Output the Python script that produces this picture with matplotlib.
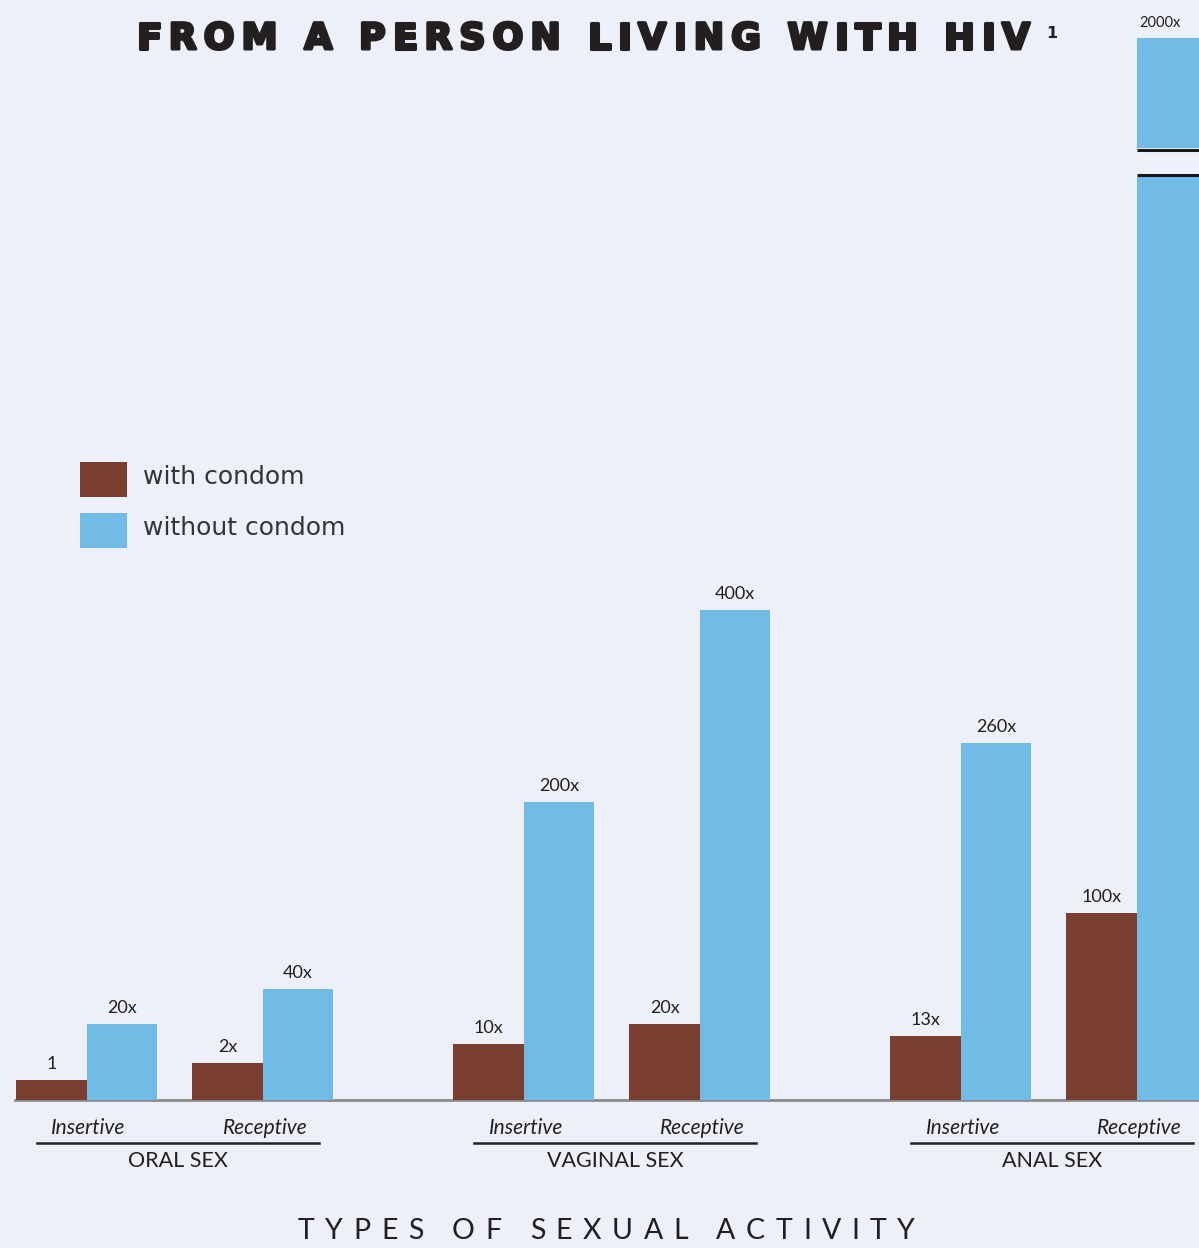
import matplotlib
matplotlib.use('Agg')
import matplotlib.pyplot as plt
import matplotlib.patheffects as pe
from matplotlib.patches import Patch
from matplotlib.transforms import Affine2D

# ---------------- data ----------------
groups = ['ORAL SEX', 'VAGINAL SEX', 'ANAL SEX']
roles = ['Insertive', 'Receptive']
with_labels = ['1', '2x', '10x', '20x', '13x', '100x']
without_labels = ['20x', '40x', '200x', '400x', '260x', '2000x']
# drawn bar heights (the graphic is not to a linear scale)
with_heights = [20, 37, 56, 76, 64, 187]
without_heights = [76, 111, 298, 490, 357, 1062]
legend_labels = ['with condom', 'without condom']
title = 'FROM A PERSON LIVING WITH HIV'
xlabel = 'TYPES OF SEXUAL ACTIVITY'

# ---------------- style ----------------
W, H = 1199, 1248
BG = '#EDF0F8'
BROWN = '#7B3F32'
BLUE = '#71BBE7'
TXT = '#231F20'
BREAK_LO, BREAK_HI = 925, 950   # axis break (drawn units)

fig = plt.figure(figsize=(W / 100, H / 100), dpi=100)
fig.patch.set_facecolor(BG)
ax = fig.add_axes([0, 0, 1, 1])
ax.set_facecolor(BG)
PX = 70.5
X0 = 86.5
ax.set_xlim(-X0 / PX, (W - X0) / PX)
ax.set_ylim(-(H - 1100), 1100)
ax.axis('off')

group_step = 6.2
pair_step = 2.5
centers = []
for gi in range(len(groups)):
    for ri in range(len(roles)):
        centers.append(gi * group_step + ri * pair_step)

# bars
for i, c in enumerate(centers):
    ax.bar(c - 0.5, with_heights[i], width=1.0, color=BROWN, zorder=2)
    h = without_heights[i]
    if h > BREAK_HI:
        ax.bar(c + 0.5, BREAK_LO - 2, width=1.0, color=BLUE, zorder=2)
        ax.bar(c + 0.5, h - BREAK_HI - 2, bottom=BREAK_HI + 2, width=1.0, color=BLUE, zorder=2)
        for yb in (BREAK_LO, BREAK_HI):
            ax.plot([c, c + 1.0], [yb, yb], color='#1a1a1a', lw=2.2, zorder=3,
                    solid_capstyle='butt')
        ax.text(c + 0.04, h + 8, without_labels[i], ha='left', va='bottom',
                fontsize=10.5, family='Lato', color=TXT, clip_on=False)
    else:
        ax.bar(c + 0.5, h, width=1.0, color=BLUE, zorder=2)
        ax.text(c + 0.5, h + 8, without_labels[i], ha='center', va='bottom',
                fontsize=13, family='Lato', color=TXT)
    ax.text(c - 0.5, with_heights[i] + 8, with_labels[i], ha='center', va='bottom',
            fontsize=13, family='Lato', color=TXT)

# baseline
ax.plot([(15 - X0) / PX, (W - X0) / PX], [0, 0], color='#8a8a8a', lw=2, zorder=1)

# role labels, underline, group labels
for gi, g in enumerate(groups):
    for ri, r in enumerate(roles):
        c = centers[gi * 2 + ri]
        ax.text(c + 0.03, -28, r, ha='center', va='center', fontsize=15,
                family='Lato', style='italic', color=TXT)
    gc = (centers[gi * 2] + centers[gi * 2 + 1]) / 2 + 0.05
    ax.plot([gc - 2.0, gc + 2.0], [-43, -43], color='#222222', lw=1.8)
    ax.text(gc, -61, g, ha='center', va='center', fontsize=15.5, family='Lato', color=TXT)

# legend
handles = [Patch(facecolor=BROWN), Patch(facecolor=BLUE)]
leg = fig.legend(handles, legend_labels, loc='upper left',
                 bbox_to_anchor=(80 / W, 1 - 462 / H), bbox_transform=fig.transFigure,
                 frameon=False, borderpad=0, borderaxespad=0,
                 handlelength=1.88, handleheight=1.777, handletextpad=0.64,
                 labelspacing=0.64, prop={'family': 'DejaVu Sans', 'size': 18})
for t in leg.get_texts():
    t.set_color('#33333f')
    t.set_transform(t.get_transform() + Affine2D().translate(0, 4))

# letter-spaced text helper
renderer = fig.canvas.get_renderer()


def text_width(s, **kw):
    t = fig.text(0, 0, s, **kw)
    w = t.get_window_extent(renderer=renderer).width
    t.remove()
    return w


def spaced(s, left_px, right_px, base_px, effects=None, **kw):
    bar = text_width('|', **kw)
    offs = [text_width(s[:i] + '|', **kw) - bar if i else 0.0 for i in range(len(s))]
    natural = text_width(s, **kw)
    track = ((right_px - left_px) - natural) / (len(s) - 1)
    for i, ch in enumerate(s):
        if ch == ' ':
            continue
        t = fig.text((left_px + offs[i] + i * track) / W, 1 - base_px / H, ch,
                     ha='left', va='baseline', **kw)
        if effects:
            t.set_path_effects(effects)


spaced(title, 137, 1030, 49,
       effects=[pe.withStroke(linewidth=2.2, foreground=TXT)],
       family='DejaVu Sans', weight='bold', fontsize=26, color=TXT)
fig.text(1046 / W, 1 - 38 / H, '1', ha='left', va='baseline', family='DejaVu Sans',
         weight='bold', fontsize=11.5, color=TXT)
spaced(xlabel, 298, 915, 1239, family='Lato', fontsize=20.5, color=TXT)

fig.savefig('out.png', dpi=100, facecolor=BG)
